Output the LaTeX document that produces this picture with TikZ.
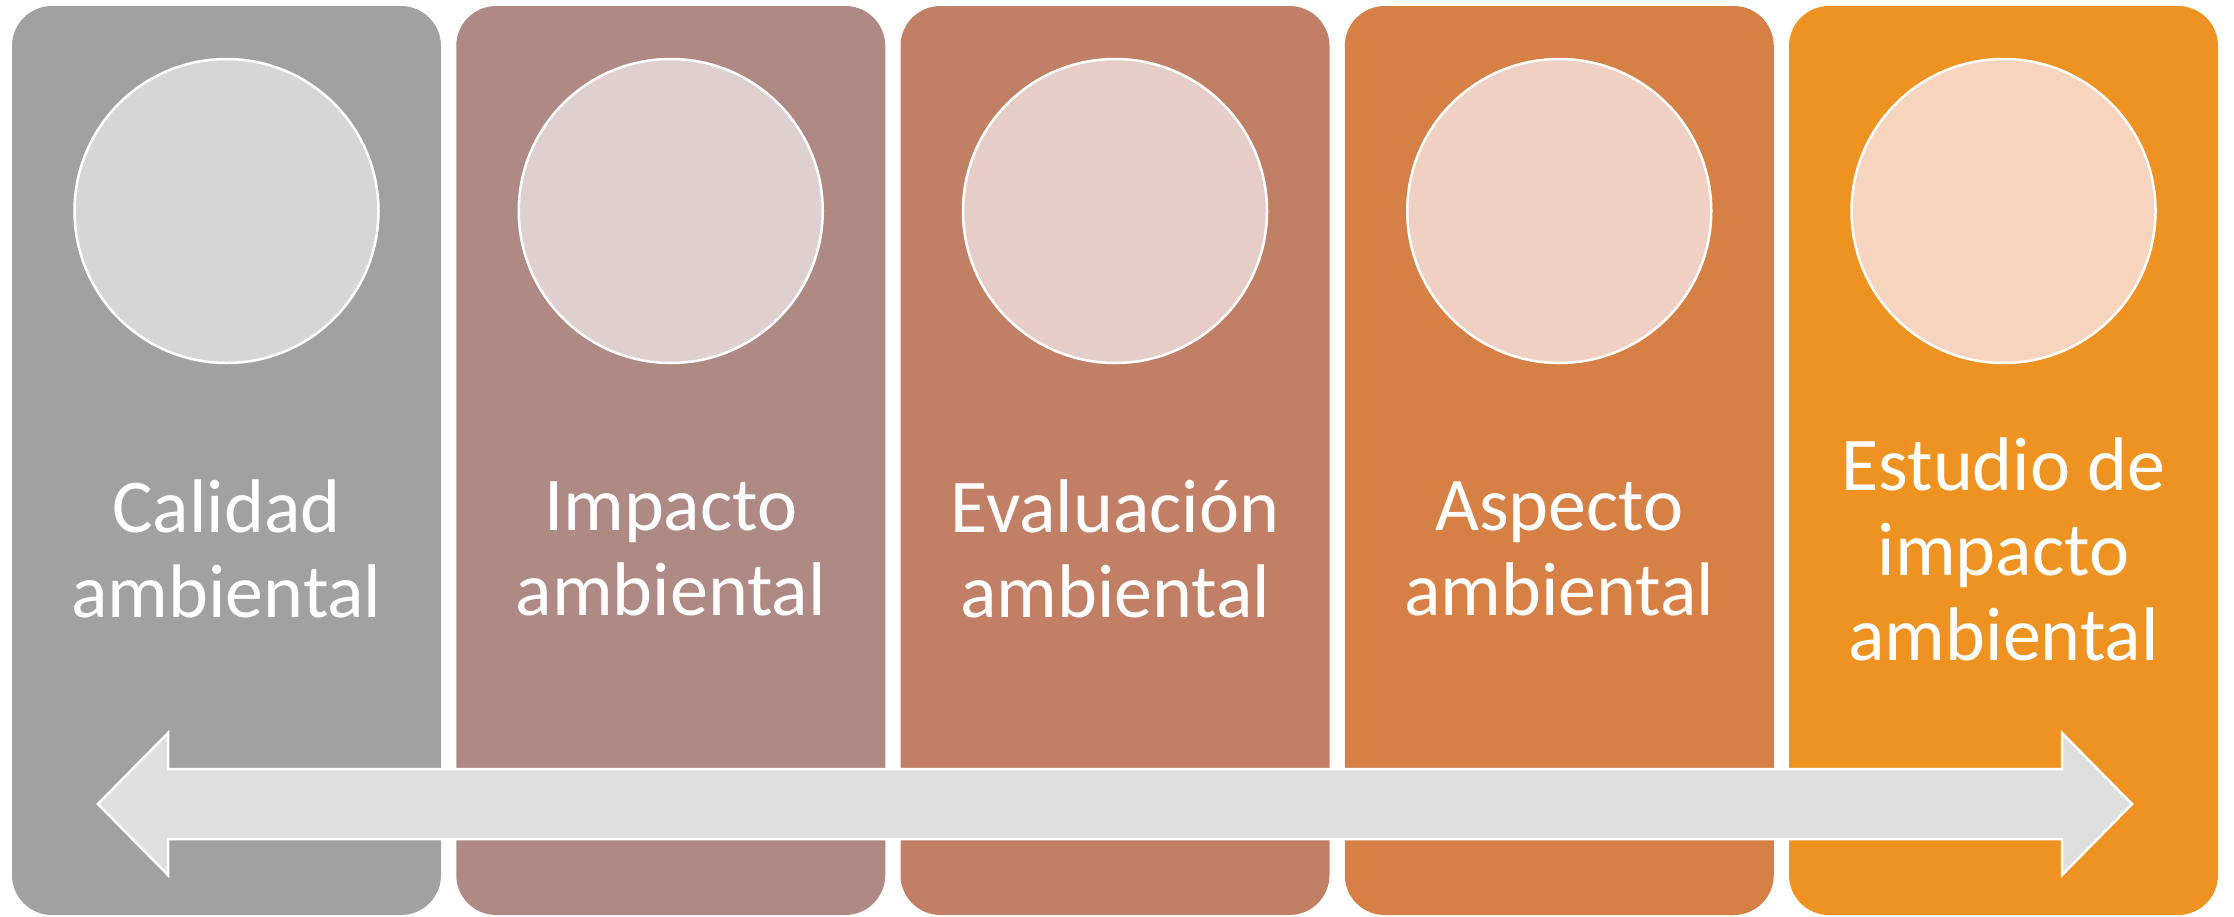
\documentclass[tikz,border=0pt]{standalone}
\usepackage{fontspec}
\setmainfont{Carlito}
\definecolor{pA}{HTML}{A1A1A1}
\definecolor{pB}{HTML}{AF8984}
\definecolor{pC}{HTML}{C17F66}
\definecolor{pD}{HTML}{D68045}
\definecolor{pE}{HTML}{EE9322}
\definecolor{cA}{HTML}{D6D6D6}
\definecolor{cB}{HTML}{DDD0CE}
\definecolor{cC}{HTML}{E7CDC8}
\definecolor{cD}{HTML}{EFD0C3}
\definecolor{cE}{HTML}{F6D4BD}
\definecolor{arrowgray}{HTML}{DFDFDF}
\begin{document}
\begin{tikzpicture}[x=1pt,y=-1pt,
  panel/.style={rectangle, fill=#1, draw=none, rounded corners=40pt, minimum width=429pt, minimum height=909pt, inner sep=0pt},
  disc/.style={circle, fill=#1, draw=white, line width=2.5pt, minimum size=304pt, inner sep=0pt},
  paneltext/.style={text=white, align=center, inner sep=0pt, font=\fontsize{76}{85}\selectfont},
  dblarrow/.style={fill=arrowgray, draw=white, line width=2.5pt, line join=miter}]
\useasboundingbox (0,0) rectangle (2234,916);
% panels
\node[panel=pA] (p1) at (226.5,460.5) {};
\node[panel=pB] (p2) at (670.75,460.5) {};
\node[panel=pC] (p3) at (1115,460.5) {};
\node[panel=pD] (p4) at (1559.25,460.5) {};
\node[panel=pE] (p5) at (2003.5,460.5) {};
% circles
\node[disc=cA] (c1) at (226.5,211) {};
\node[disc=cB] (c2) at (670.75,211) {};
\node[disc=cC] (c3) at (1115,211) {};
\node[disc=cD] (c4) at (1559.25,211) {};
\node[disc=cE] (c5) at (2003.5,211) {};
% texts
\node[paneltext] (t1) at (226.5,549) {Calidad\\ambiental};
\node[paneltext] (t2) at (670.75,549) {Impacto\\ambiental};
\node[paneltext] (t3) at (1115,549) {Evaluación\\ambiental};
\node[paneltext] (t4) at (1559.25,549) {Aspecto\\ambiental};
\node[paneltext] (t5) at (2003.5,549) {Estudio de\\impacto\\ambiental};
% double arrow
\draw[dblarrow] (98,804) -- (168,733) -- (168,769) -- (2062,769) -- (2062,733)
  -- (2132,804) -- (2062,875) -- (2062,839) -- (168,839) -- (168,875) -- cycle;
\end{tikzpicture}
\end{document}
